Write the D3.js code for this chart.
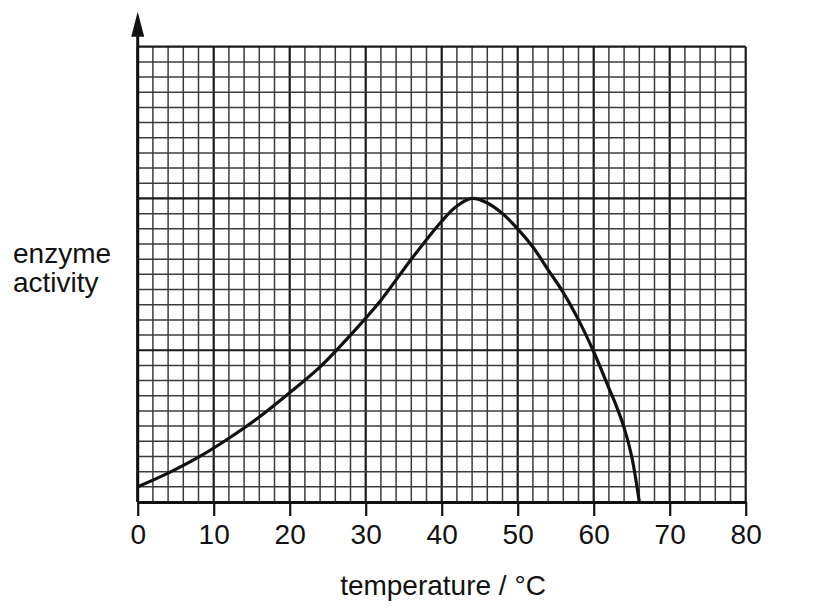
<!DOCTYPE html>
<html>
<head>
<meta charset="utf-8">
<script src="https://cdn.jsdelivr.net/npm/d3@7"></script>
<style>
  body { margin: 0; background: #fff; }
  text { font-family: "Liberation Sans", Arial, sans-serif; fill: #111; }
</style>
</head>
<body>
<div id="chart"></div>
<script>
// curve (temperature in °C, activity in grid squares)
const temperature = [0, 4, 8, 12, 16, 20, 24, 28, 32, 36, 40, 42, 44, 46, 48, 50, 52, 54, 56, 58, 60, 62, 63, 64, 65, 66];
const activity = [1.0, 1.9, 2.95, 4.2, 5.6, 7.2, 8.9, 11.0, 13.3, 16.0, 18.5, 19.5, 20.0, 19.7, 19.0, 18.0, 16.8, 15.3, 13.8, 12.0, 9.9, 7.5, 6.3, 4.9, 3.0, 0];
const xTicks = [0, 10, 20, 30, 40, 50, 60, 70, 80];

const width = 816, height = 608;
const margin = { top: 46.7, right: 70.3, bottom: 106, left: 137.7 };

const svg = d3.select("#chart")
    .append("svg")
    .attr("width", width)
    .attr("height", height);

const x = d3.scaleLinear()
    .domain([0, 80])
    .range([margin.left, width - margin.right]);

const y = d3.scaleLinear()
    .domain([0, 30])
    .range([height - margin.bottom, margin.top]);

// graph paper
const grid = svg.append("g");
d3.range(0, 81, 2).forEach(v => {
    const major = v % 10 === 0;
    grid.append("line")
        .attr("x1", x(v)).attr("x2", x(v))
        .attr("y1", y(0)).attr("y2", y(30))
        .attr("stroke", major ? "#1a1a1a" : "#3c3c3c")
        .attr("stroke-width", major ? 2.2 : 1.5);
});
d3.range(0, 31, 1).forEach(v => {
    const major = v % 10 === 0;
    grid.append("line")
        .attr("x1", x(0)).attr("x2", x(80))
        .attr("y1", y(v)).attr("y2", y(v))
        .attr("stroke", major ? "#1a1a1a" : "#3c3c3c")
        .attr("stroke-width", major ? 2.2 : 1.5);
});

// axes
svg.append("line")
    .attr("x1", x(0)).attr("x2", x(0))
    .attr("y1", y(0)).attr("y2", 30)
    .attr("stroke", "#111").attr("stroke-width", 3);
svg.append("path")
    .attr("d", `M${x(0)},11.7 L${x(0) - 6.5},36.7 L${x(0) + 6.5},36.7 Z`)
    .attr("fill", "#111");

const xAxis = svg.append("g")
    .attr("transform", `translate(0, ${y(0)})`)
    .call(d3.axisBottom(x).tickValues(xTicks).tickSize(14).tickPadding(8).tickSizeOuter(0));
xAxis.select(".domain").attr("stroke", "#111").attr("stroke-width", 3);
xAxis.selectAll(".tick line").attr("stroke", "#111").attr("stroke-width", 2.2);
xAxis.selectAll(".tick text")
    .style("font-size", "28px")
    .style("font-family", "'Liberation Sans', Arial, sans-serif")
    .attr("fill", "#111");

// curve
const line = d3.line()
    .x((d, i) => x(temperature[i]))
    .y(d => y(d))
    .curve(d3.curveCatmullRom.alpha(0.5));

svg.append("path")
    .datum(activity)
    .attr("d", line)
    .attr("fill", "none")
    .attr("stroke", "#111")
    .attr("stroke-width", 3.2);

// labels
svg.append("text")
    .attr("x", 13)
    .attr("y", 263)
    .style("font-size", "28px")
    .text("enzyme");
svg.append("text")
    .attr("x", 13)
    .attr("y", 292)
    .style("font-size", "28px")
    .text("activity");

svg.append("text")
    .attr("x", 443)
    .attr("y", 595)
    .attr("text-anchor", "middle")
    .style("font-size", "28px")
    .text("temperature / °C");
</script>
</body>
</html>
